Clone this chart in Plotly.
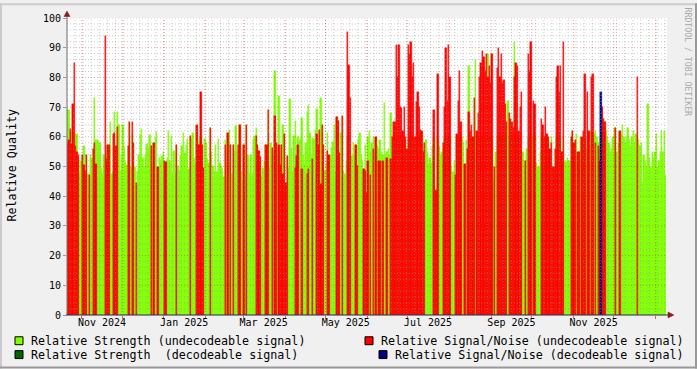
import plotly.graph_objects as go
import pandas as pd

N = None

# ---------------- data (one value per day) ----------------
strength_2024_10 = [69, 69, 62, 57, 57, 57, 61, 61, 53, 47.5, 52]
snr_2024_10 = [58, 59, 62.5, 57.5, 71, 85, 57, 55, 54, N, N]

strength_2024_11 = [54, 57, 47, 54, 47.5, 47, 54, 53, 56, 73, 59, 59, 58.5, 58, 49.5,
                    47.5, 54, 52, 56.8, 57.4, 57, 65, 47.5, 48, 68.5, 57, 68.5, 64, 48.5, 54]
snr_2024_11 = [54, 50.5, 48.5, 54, N, 47, N, N, 56, 58, 51, N, N, N, N,
               N, N, 94, 52.4, 57.4, 57.4, N, N, 61, 61.3, 57, 63.2, N, N, N]

strength_2024_12 = [64, 56.5, 52, 50.5, 57, 65, 50, 61, 58, 50, 44.5, 48, 54, 60.5, 62.5, 53,
                    50, 54, 57.5, 56, 60.5, 57, 50, 58, 59.5, 61.5, 50, 53, 51.5, 53.5, 55]
snr_2024_12 = [N, N, N, N, 57, 65, N, 65, 58, N, 44.5, N, N, N, N, N,
               N, N, N, N, N, 57, N, 58, N, N, 50, N, N, N, N]

strength_2025_01 = [52, 51.5, 53, 61.8, 51.8, 60.2, 47.4, 55.2, 47.4, 57.2, 50.2, 48.5, 53.5, 56.8, 61.3, 54.6,
                    57.4, 59.1, 49.1, 60.2, 59.1, 61.3, 52.9, 50.7, 64, 57.4, 59, 60, 57.4, 49.6, 59.1]
snr_2025_01 = [52, 51.5, N, N, N, N, N, N, N, 57.2, N, N, N, N, N, N,
               N, N, N, 60.2, N, N, N, N, 64, 57.4, 57.4, 75.2, 57.4, 49.6, N]

strength_2025_02 = [58, 52.4, 51.3, 63, 55, 50.2, 48, 57.4, 48, 59.1, 51.3, 50.2, 49.1, 46.3,
                    59, 46.3, 61.3, 62.4, 57.2, 47.4, 57.2, 55.2, 63.5, 55.2, 57.2, 64, 48, 45.2]
snr_2025_02 = [N, N, N, 63, N, N, N, N, N, N, N, N, N, N,
               57.4, N, 61.3, N, 57.2, N, 57.2, N, N, N, 57.2, 64, N, N]

strength_2025_03 = [57.2, 46.8, 64, 54, 47.4, 54, 47.4, 59.1, 60.2, 63, 57.4, 55.2, 53.2, 46.8, 49.6, 51.8,
                    57.2, 57.2, 69.1, 49.6, 58, 56.3, 54, 82, 58, 54, 73.7, 50.5, 57.2, 64, 61]
snr_2025_03 = [57.2, N, 64, N, N, N, N, N, N, 60.2, 57.4, 55.2, 53.2, N, N, N,
               57.2, 57.2, 69.1, N, N, 56.3, N, 67.1, 58, N, 57.4, 50.5, 57.2, 47.4, 61]

strength_2025_04 = [44.3, 53.5, 49.6, 72.7, 56.3, 48, 60.2, 65.2, 53.5, 60, 58.5, 59.1, 66.3, 54, 50.7,
                    58, 68.3, 70.7, 61.3, 54, 59.6, 59.1, 62.4, 69.4, 57.4, 62.4, 73.2, 64, 57.4, 48.5]
snr_2025_04 = [44.3, 53.5, N, N, N, N, N, 49.6, 53.5, 57.4, N, N, 49, N, N,
               N, 47.4, 49, N, N, 52.4, N, N, 61, 57.4, 62.4, 44, 64, 57.4, N]

strength_2025_05 = [51.3, 61.3, 54, 53.5, 56.3, 58.3, 64, 48, 66.5, 65.2, 47.4, 61.3, 67.1, 48.5, 47.4, 51.8,
                    60, 60, 54, 53.5, 58, 54, 57.2, 50.2, 59.1, 61.3, 54, 51.8, 49, 57.2, 41]
snr_2025_05 = [N, 55.2, 54, N, N, N, N, N, 66.5, 65.2, 54.6, N, 67.1, N, N, N,
               95.2, 84.3, 73.2, N, N, N, 57.2, 50.2, N, N, N, N, 49, 48.5, 41]

strength_2025_06 = [60, 62, 55, 58, 60, 55, 60, 57, 56, 59, 55, 54, 71.3, 54, 55,
                    56, 54, 68, 55, 55, 55, 60, 60, 60, 60, 58, 58, 60, 58, 55]
snr_2025_06 = [52, N, 47, N, 56, N, 60, N, 52, 52, N, 52, N, N, 53,
               N, N, 52.4, 60, 65, 65, 91, 80, 91, 70, 69.6, 62, 70, 60, 56]

strength_2025_07 = [60, 60, 60, 60, 60, 60, 60, 60, 60, 55, 61.8, 55, 58, 59, 55, 51,
                    53, 51.3, 57, 60, 42, 42, 60, 57, 54, 55, 58, 60, 60, 60, 60]
snr_2025_07 = [91, 88, 92, 80, 85, 60, 71.8, 75, 70, 62.4, 62, 55, 58, N, N, N,
               N, N, N, 69, 41.8, 42, 81, N, N, N, 58, 70, 90, 72, 91]

strength_2025_08 = [60, 50, 48, 52, 47, 60, 60, 60, 60, 60, 58, 51, 59, 56, 84, 60,
                    60, 60, 60, 86, 60, 60, 60, 60, 60, 60, 60, 60, 88, 60, 60]
snr_2025_08 = [80, N, N, N, 47, 61, 72, 82, 65, N, N, 51, N, 56, 68.5, 62,
               64, 60, 73, N, 62, 68, 80, 85, 89, 87, 82, 88, 80, 84, 78]

strength_2025_09 = [60, 45, 50, 55, 60, 60, 60, 60, 60, 60, 60, 60, 72, 60, 60,
                    60, 60, 92, 60, 60, 60, 60, 55, 55, 51.8, 52, 56, 60, 60, 60]
snr_2025_09 = [88, N, 50, N, 83, 90, 80, 88, 78, 79, 71, 65, N, 68, 66,
               65, 63, 80, 85, 84, 62, 70, 75, N, N, 52, N, 88, 82, 92]

strength_2025_10 = [60, 60, 60, 51.3, 50, 50, 55, 60, 60, 60, 60, 60, 60, 56, 60, 50,
                    48, 56, 60, 60, 60, 60, 55, 60, 52, 51.5, 53, 52, 52, 60, 62]
snr_2025_10 = [N, 72, 71, N, N, N, N, 66, 64, 60, 70, 61, 60, 56, 58, 50,
               50, 56, 80, 84, 75, 84, 55, 92, N, N, N, N, N, 60, 62]

strength_2025_11 = [58, 59, 61, 55, 55, 60, 58, 55, 60, 56, 55, 62, 57, 62, 60,
                    61, 62, 60, 58, 56, 60, 62, 66, 65, 62, 60, 58, 55, 56, 60]
snr_2025_11 = [58, 59, N, 55, 55, N, 60, 62, 81, N, 75, 62, N, 80, 81,
               N, 58, N, 57, 52, N, 70, 66, 65, N, N, N, N, N, N]

strength_2025_12 = [63, 63, 55, 58, 62, 61, 64, 60, 58, 60, 63, 59, 57, 60, 62, 58,
                    61, 60, 59, 57, 58, 44.6, 54, 52, 50, 71, 53, 50, 55, 53, 55]
snr_2025_12 = [N, 63, N, N, 62, N, N, N, N, N, N, N, N, N, N, N,
               N, 80, N, N, N, N, N, N, N, N, N, N, N, N, N]

strength_2026_01 = [61, 50, 52, 55, 61.8, 55, 62, 47]
snr_2026_01 = [N, N, N, N, N, N, N, N]

# decodeable signal (only a single day visible)
dec_strength_dates = []
dec_strength_values = []
dec_snr_dates = ["2025-11-21"]
dec_snr_values = [75]

tick_labels = ["Nov 2024", "Jan 2025", "Mar 2025", "May 2025", "Jul 2025", "Sep 2025", "Nov 2025"]
tick_months = ["2024-11-01", "2025-01-01", "2025-03-01", "2025-05-01", "2025-07-01", "2025-09-01", "2025-11-01"]

blocks = [
    ("2024-10-21", strength_2024_10, snr_2024_10),
    ("2024-11-01", strength_2024_11, snr_2024_11),
    ("2024-12-01", strength_2024_12, snr_2024_12),
    ("2025-01-01", strength_2025_01, snr_2025_01),
    ("2025-02-01", strength_2025_02, snr_2025_02),
    ("2025-03-01", strength_2025_03, snr_2025_03),
    ("2025-04-01", strength_2025_04, snr_2025_04),
    ("2025-05-01", strength_2025_05, snr_2025_05),
    ("2025-06-01", strength_2025_06, snr_2025_06),
    ("2025-07-01", strength_2025_07, snr_2025_07),
    ("2025-08-01", strength_2025_08, snr_2025_08),
    ("2025-09-01", strength_2025_09, snr_2025_09),
    ("2025-10-01", strength_2025_10, snr_2025_10),
    ("2025-11-01", strength_2025_11, snr_2025_11),
    ("2025-12-01", strength_2025_12, snr_2025_12),
    ("2026-01-01", strength_2026_01, snr_2026_01),
]

half_day = pd.Timedelta(hours=12)
days_x, strength, snr = [], [], []
for start, s_vals, r_vals in blocks:
    d = pd.date_range(start, periods=len(s_vals), freq="D")
    r_vals = (list(r_vals) + [None] * len(s_vals))[:len(s_vals)]
    days_x += list(d + half_day)
    strength += list(s_vals)
    snr += r_vals

# ---------------- layout geometry ----------------
W, H = 697, 369
L, R, T, B = 67, 30, 15, 54
PW, PH = W - L - R, H - T - B


def px(p):
    return (p - L) / PW


def py(p):
    return (H - B - p) / PH


x_start = pd.Timestamp("2024-10-21")
x_end = pd.Timestamp("2026-01-09 12:00")
DAY_MS = 86400000

GREEN = "#80FF00"
RED = "#FF0000"
DKGREEN = "#006600"
NAVY = "#000080"
MONO = "DejaVu Sans Mono"

fig = go.Figure()


def bar(x, y, color):
    return go.Bar(x=x, y=y, width=DAY_MS, marker=dict(color=color, line=dict(color=color, width=0.4)),
                  showlegend=False, hoverinfo="skip")


fig.add_trace(bar(days_x, strength, GREEN))
fig.add_trace(bar([pd.Timestamp(d) + half_day for d in dec_strength_dates], dec_strength_values, DKGREEN))
fig.add_trace(bar(days_x, snr, RED))
fig.add_trace(bar([pd.Timestamp(d) + half_day for d in dec_snr_dates], dec_snr_values, NAVY))

# grid drawn over the data (rrdtool style)
minor_y = [v for v in range(2, 100, 2) if v % 10]
major_y = list(range(10, 101, 10))
month_lines = pd.date_range("2024-11-01", "2026-01-01", freq="MS")
week_lines = pd.date_range(x_start, x_end, freq="6D")


def hlines(vals):
    xs, ys = [], []
    for v in vals:
        xs += [x_start, x_end, None]
        ys += [v, v, None]
    return xs, ys


def vlines(vals):
    xs, ys = [], []
    for v in vals:
        xs += [v, v, None]
        ys += [0, 100, None]
    return xs, ys


GRIDC = "rgba(150,150,150,0.5)"
MGRIDC = "rgba(210,0,0,0.35)"
for xs_ys, col in [(vlines(week_lines), GRIDC), (hlines(minor_y), GRIDC),
                   (vlines(month_lines), MGRIDC), (hlines(major_y), MGRIDC)]:
    xs, ys = xs_ys
    fig.add_trace(go.Scatter(x=xs, y=ys, mode="lines", line=dict(color=col, width=1, dash="1px,2px"),
                             showlegend=False, hoverinfo="skip", connectgaps=False))

mid_months = [pd.Timestamp(m) + pd.Timedelta(days=15) for m in tick_months]

shapes = []
# frame
shapes.append(dict(type="rect", xref="paper", yref="paper", x0=px(0), x1=px(W), y0=py(0), y1=py(2),
                   fillcolor="#CBCBCB", line=dict(width=0)))
shapes.append(dict(type="rect", xref="paper", yref="paper", x0=px(0), x1=px(2), y0=py(0), y1=py(H),
                   fillcolor="#CBCBCB", line=dict(width=0)))
shapes.append(dict(type="rect", xref="paper", yref="paper", x0=px(W - 2), x1=px(W), y0=py(0), y1=py(H),
                   fillcolor="#999999", line=dict(width=0)))
shapes.append(dict(type="rect", xref="paper", yref="paper", x0=px(0), x1=px(W), y0=py(H - 2), y1=py(H),
                   fillcolor="#999999", line=dict(width=0)))
# axes
shapes.append(dict(type="line", xref="paper", yref="paper", x0=px(67), x1=px(67), y0=py(315), y1=py(10),
                   line=dict(color="#707070", width=1)))
shapes.append(dict(type="line", xref="paper", yref="paper", x0=px(66), x1=px(669), y0=py(315), y1=py(315),
                   line=dict(color="#22225A", width=1)))
shapes.append(dict(type="path", xref="paper", yref="paper",
                   path=f"M{px(64)},{py(13.5)} L{px(70)},{py(13.5)} L{px(67)},{py(8)} Z",
                   fillcolor="#8B1A1A", line=dict(color="#8B1A1A", width=0.5)))
shapes.append(dict(type="path", xref="paper", yref="paper",
                   path=f"M{px(668)},{py(312)} L{px(668)},{py(318)} L{px(674)},{py(315)} Z",
                   fillcolor="#8B1A1A", line=dict(color="#8B1A1A", width=0.5)))

# legend boxes
legend_items = [
    (15, 341, GREEN, "Relative Strength (undecodeable signal)", 30),
    (365, 341, RED, "Relative Signal/Noise (undecodeable signal)", 380),
    (15, 355, DKGREEN, "Relative Strength \u00a0(decodeable signal)", 30),
    (379, 355, NAVY, "Relative Signal/Noise (decodeable signal)", 394),
]
annotations = []
for bx, by, col, text, tx in legend_items:
    shapes.append(dict(type="rect", xref="paper", yref="paper", x0=px(bx), x1=px(bx + 8),
                       y0=py(by - 4), y1=py(by + 4), fillcolor=col, line=dict(color="black", width=1)))
    annotations.append(dict(x=px(tx - 1), y=py(by), xref="paper", yref="paper", text=text, showarrow=False,
                            xanchor="left", yanchor="middle", font=dict(family=MONO, size=11.7, color="black")))

annotations.append(dict(x=px(12), y=py(164), xref="paper", yref="paper", text="Relative Quality",
                        showarrow=False, textangle=-90, xanchor="center", yanchor="middle",
                        font=dict(family=MONO, size=11.7, color="black")))
annotations.append(dict(x=px(688), y=py(59), xref="paper", yref="paper", text="RRDTOOL / TOBI OETIKER",
                        showarrow=False, textangle=90, xanchor="center", yanchor="middle",
                        font=dict(family=MONO, size=8.2, color="#AAAAAA")))

fig.update_layout(
    width=W, height=H, margin=dict(l=L, r=R, t=T, b=B, pad=0),
    paper_bgcolor="#F0F0F0", plot_bgcolor="white",
    barmode="overlay", bargap=0, showlegend=False,
    shapes=shapes, annotations=annotations,
    xaxis=dict(type="date", range=[x_start, x_end], showgrid=False, zeroline=False, showline=False,
               tickmode="array", tickvals=mid_months, ticktext=tick_labels, ticks="",
               tickfont=dict(family=MONO, size=10, color="black"),
               minor=dict(tickmode="array", tickvals=list(month_lines), ticks="outside", ticklen=3,
                          tickcolor="rgba(210,0,0,0.6)", tickwidth=1, showgrid=False),
               fixedrange=True),
    yaxis=dict(range=[0, 100], tickmode="array", tickvals=list(range(0, 101, 10)),
               ticks="outside", ticklen=3, tickcolor="#999999", showgrid=False, zeroline=False,
               showline=False, tickfont=dict(family=MONO, size=10, color="black"), fixedrange=True),
)

fig.write_html("out.html", config={"displayModeBar": False},
               post_script="document.body.style.margin='0';document.body.style.overflow='hidden';")
